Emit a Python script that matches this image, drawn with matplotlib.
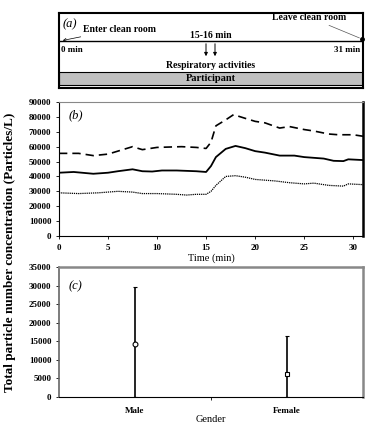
import matplotlib.pyplot as plt
import numpy as np

plt.rcParams['font.family'] = ['Liberation Serif', 'DejaVu Serif']
plt.rcParams['font.weight'] = 'bold'

# panel (b) time series (particles/L)
time_upper = [0, 2, 3.5, 5, 6.5, 7.5, 8.5, 10, 12.5, 14, 15, 15.5, 16, 17, 17.8, 19, 20, 21, 22.5, 23.5, 25, 26, 27.5, 28.5, 30, 31]
upper = [55500, 55500, 54000, 55000, 58000, 60000, 58000, 59500, 60000, 59500, 58800, 63000, 74000, 78000, 81500, 79000, 77000, 76000, 72500, 73500, 71500, 70500, 68500, 68000, 68000, 67000]

time_mid = [0, 1.5, 3.5, 5, 6, 7.5, 8.5, 9.5, 10.5, 12, 14, 15, 15.5, 16, 17, 18, 19, 20, 21, 22.5, 24, 25, 27, 28, 29, 29.5, 31]
mid = [42500, 43000, 41800, 42500, 43500, 44800, 43500, 43300, 44000, 44000, 43500, 43000, 47000, 53000, 58500, 60500, 59000, 57000, 56000, 54000, 54000, 53000, 52000, 50500, 50300, 51500, 51000]

time_low = [0, 2, 4, 6, 7.5, 8.5, 10, 12, 13, 14, 15, 15.5, 16, 17, 18, 19, 20, 22, 23.5, 25, 26, 27.5, 29, 29.5, 31]
low = [29000, 28500, 29000, 30000, 29500, 28500, 28500, 28000, 27500, 28000, 28000, 30000, 34000, 40000, 40500, 39500, 38000, 37000, 35800, 35000, 35500, 34000, 33500, 35000, 34500]

# panel (c) gender summary
genders = ['Male', 'Female']
gender_mean = [14200, 6300]
gender_upper = [29700, 16500]
gender_lower = [0, 0]

fig = plt.figure(figsize=(3.74, 4.23), dpi=100)
H = 423.0


def box(top, bottom, left=59, right=363):
    return [left / 374, (H - bottom) / H, (right - left) / 374, (bottom - top) / H]


# ---------- panel (a): timeline diagram ----------
axa = fig.add_axes(box(13, 88))
axa.set_xlim(59, 363)
axa.set_ylim(88, 13)
axa.set_xticks([])
axa.set_yticks([])
for s in axa.spines.values():
    s.set_linewidth(1.5)
axa.axhline(41, color='black', lw=1)
axa.add_patch(plt.Rectangle((59, 72), 304, 13, facecolor='#c0c0c0', edgecolor='black', lw=0.8))
axa.text(211, 78.5, 'Participant', ha='center', va='center', fontsize=7.5)
axa.text(211, 66, 'Respiratory activities', ha='center', va='center', fontsize=7)
axa.text(211, 35, '15-16 min', ha='center', va='center', fontsize=7)
for xa in [206, 215]:
    axa.annotate('', xy=(xa, 59), xytext=(xa, 41),
                 arrowprops=dict(arrowstyle='-|>', color='black', lw=0.7, mutation_scale=5))
axa.text(61, 50, '0 min', ha='left', va='center', fontsize=6.5)
axa.text(360, 50, '31 min', ha='right', va='center', fontsize=6.5)
axa.text(63, 24, '(a)', ha='left', va='center', fontsize=9, style='italic', weight='normal')
axa.annotate('Enter clean room', xy=(60, 41), xytext=(83, 29), ha='left', va='center', fontsize=7,
             arrowprops=dict(arrowstyle='->', color='black', lw=0.5, mutation_scale=5))
axa.annotate('Leave clean room', xy=(362, 39), xytext=(346, 17), ha='right', va='center', fontsize=7,
             arrowprops=dict(arrowstyle='-', color='#555555', lw=0.5))
axa.plot([362], [39], 'o', color='black', ms=2.5, clip_on=False)

# ---------- panel (b): time series ----------
axb = fig.add_axes(box(102, 236))
axb.plot(time_upper, upper, color='black', lw=1.2, dashes=(5, 3))
axb.plot(time_mid, mid, color='black', lw=1.3)
axb.plot(time_low, low, color='black', lw=0.9, dashes=(1, 0.7))
axb.set_xlim(0, 31)
axb.set_ylim(0, 90000)
axb.set_xticks(range(0, 31, 5))
axb.set_yticks(range(0, 90001, 10000))
axb.tick_params(labelsize=6.5, length=2, width=0.6)
axb.set_xlabel('Time (min)', fontsize=7.5, labelpad=1)
axb.text(0.03, 0.88, '(b)', transform=axb.transAxes, fontsize=9, style='italic', weight='normal')
axb.spines['top'].set_color('#888888')
axb.spines['right'].set_linewidth(1.8)

# ---------- panel (c): gender ----------
axc = fig.add_axes(box(267, 397))
xpos = np.arange(len(genders)) + 0.5
err = [np.array(gender_mean) - np.array(gender_lower), np.array(gender_upper) - np.array(gender_mean)]
axc.errorbar(xpos[0], gender_mean[0], yerr=[[err[0][0]], [err[1][0]]], fmt='o', color='black',
             mfc='white', ms=3.5, mew=0.8, ecolor='black', elinewidth=1.2, capsize=1.5, capthick=0.8)
axc.errorbar(xpos[1], gender_mean[1], yerr=[[err[0][1]], [err[1][1]]], fmt='s', color='black',
             mfc='white', ms=3.2, mew=0.8, ecolor='black', elinewidth=1.2, capsize=1.5, capthick=0.8)
axc.set_xlim(0, 2)
axc.set_ylim(0, 35000)
axc.set_xticks([1])
axc.set_xticklabels([''])
axc.set_xticks(xpos, minor=True)
axc.set_xticklabels(genders, minor=True)
axc.tick_params(axis='x', which='minor', length=0, labelsize=6.5, pad=7)
axc.tick_params(axis='x', which='major', length=2, width=0.6)
axc.set_yticks(range(0, 35001, 5000))
axc.tick_params(axis='y', labelsize=6.5, length=2, width=0.6)
axc.set_xlabel('Gender', fontsize=7.5, labelpad=0)
axc.text(0.03, 0.83, '(c)', transform=axc.transAxes, fontsize=9, style='italic', weight='normal')
for side in ['top', 'right']:
    axc.spines[side].set_color('#888888')
    axc.spines[side].set_linewidth(1.8)
axc.spines['left'].set_color('#666666')
axc.spines['left'].set_linewidth(1.2)

fig.text(10 / 374, 1 - 252 / H, 'Total particle number concentration (Particles/L)', rotation=90,
         ha='center', va='center', fontsize=9.5)

fig.savefig('out.png', dpi=100)
